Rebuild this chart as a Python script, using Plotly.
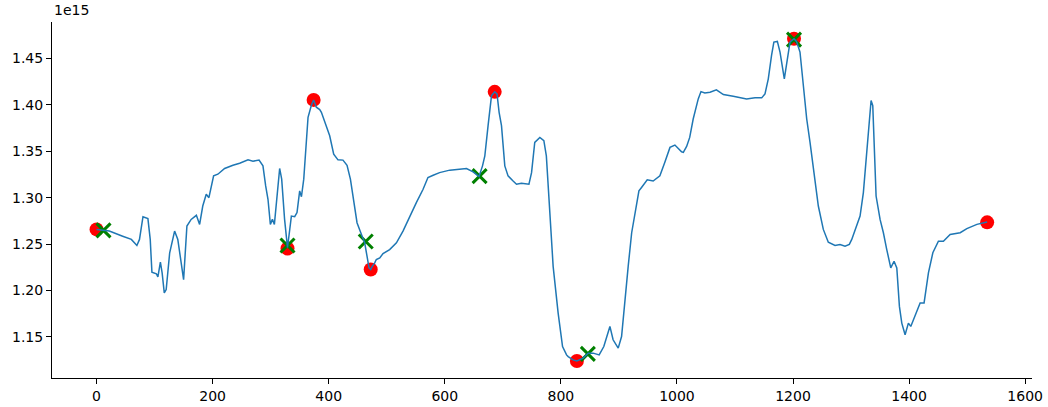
import plotly.graph_objects as go

SCALE_LABEL = "1e15"

# signal (values in units of 1e15)
x_signal = [0, 12, 22, 45, 60, 69.5, 74, 80, 88.5, 92.5, 95.4, 103, 105.7, 110, 113, 116.7, 120, 126, 134.5, 140,
            150, 155.7, 163, 172, 177.6, 183, 189, 193.6, 201.7, 209, 220.7, 235, 246.6, 261, 269.5, 280, 286.7,
            291.4, 295.4, 299.5, 303, 306.4, 311, 315.5, 319, 324, 329, 331.6, 335.7, 341.4, 345.4, 350, 353, 357,
            360.3, 364.4, 370, 374, 378.7, 384.5, 387.4, 393, 401.7, 408.6, 416, 424.6, 431.6, 437.4, 443, 448.8,
            456.4, 462, 466, 469.5, 472.4, 475, 479.3, 482, 488, 493.6, 505, 516.7, 528, 539.6, 551, 562.6, 571,
            580, 591, 608.6, 626, 637.4, 648.8, 659, 665, 669, 674.6, 680.5, 686, 690, 693.6, 697.7, 703.4, 709,
            717.7, 723.6, 732, 745, 749.5, 755, 763.8, 770.7, 775, 781, 786.7, 795.3, 802.9, 809.8, 812.6, 821,
            827.6, 838.4, 847, 855.7, 866, 874, 884.5, 890, 898.8, 904.6, 910, 916, 922, 927.6, 934.5, 939, 948.8,
            959, 970.6, 979, 988, 996.5, 1008, 1011, 1016.7, 1022, 1028, 1036.7, 1041.4, 1048, 1057, 1068, 1080,
            1097, 1111.5, 1120, 1134.5, 1146, 1151.7, 1157.4, 1163, 1167, 1173, 1177.6, 1185, 1190, 1194.8, 1201.7,
            1206, 1212, 1217.7, 1223.6, 1229.3, 1235, 1243.6, 1252.2, 1260.8, 1272.4, 1281, 1289.6, 1297, 1301.2,
            1309.8, 1315.5, 1321.2, 1327, 1331.5, 1334.5, 1337.4, 1340.2, 1343.1, 1350, 1355.7, 1361.5, 1368.4,
            1374.1, 1378.8, 1383.3, 1387.4, 1393.1, 1398.8, 1402.9, 1410.3, 1419, 1425.8, 1433.3, 1440.9, 1450.5,
            1459.1, 1470.7, 1488, 1499.5, 1516.8, 1534.5]
y_signal = [1.2658, 1.2650, 1.2640, 1.2585, 1.2550, 1.2485, 1.2550, 1.2795, 1.2774, 1.2550, 1.2196, 1.2180, 1.2146,
            1.2304, 1.2190, 1.1973, 1.2009, 1.2406, 1.2640, 1.2550, 1.2117, 1.2694, 1.2766, 1.2810, 1.2712, 1.2910,
            1.3037, 1.3000, 1.3235, 1.3253, 1.3315, 1.3350, 1.3372, 1.3408, 1.3394, 1.3405, 1.3343, 1.3127, 1.2983,
            1.2712, 1.2766, 1.2712, 1.3018, 1.3315, 1.3200, 1.2766, 1.2460, 1.2585, 1.2802, 1.2795, 1.2839, 1.3073,
            1.3010, 1.3200, 1.3560, 1.3867, 1.3993, 1.4054, 1.3975, 1.3950, 1.3920, 1.3813, 1.3668, 1.3470, 1.3408,
            1.3405, 1.3350, 1.3200, 1.2983, 1.2730, 1.2604, 1.2514, 1.2370, 1.2243, 1.2225, 1.2260, 1.2297, 1.2333,
            1.2350, 1.2398, 1.2441, 1.2514, 1.2640, 1.2802, 1.2947, 1.3091, 1.3217, 1.3242, 1.3270, 1.3297, 1.3307,
            1.3315, 1.3278, 1.3228, 1.3343, 1.3451, 1.3776, 1.4100, 1.4141, 1.4119, 1.3920, 1.3776, 1.3343, 1.3235,
            1.3180, 1.3145, 1.3156, 1.3145, 1.3270, 1.3596, 1.3650, 1.3614, 1.3451, 1.2875, 1.2260, 1.1756, 1.1395,
            1.1305, 1.1287, 1.1251, 1.1240, 1.1270, 1.1324, 1.1324, 1.1305, 1.1395, 1.1612, 1.1468, 1.1378, 1.1503,
            1.1900, 1.2260, 1.2622, 1.2839, 1.3073, 1.3110, 1.3192, 1.3180, 1.3235, 1.3380, 1.3542, 1.3567, 1.3495,
            1.3488, 1.3553, 1.3650, 1.3848, 1.4065, 1.4144, 1.4130, 1.4137, 1.4162, 1.4112, 1.4094, 1.4076, 1.4065,
            1.4076, 1.4076, 1.4119, 1.4281, 1.4534, 1.4678, 1.4685, 1.4570, 1.4281, 1.4462, 1.4678, 1.4714, 1.4685,
            1.4570, 1.4209, 1.3848, 1.3596, 1.3307, 1.2910, 1.2658, 1.2520, 1.2485, 1.2496, 1.2477, 1.2496, 1.2550,
            1.2694, 1.2802, 1.3055, 1.3488, 1.3884, 1.4047, 1.3992, 1.3488, 1.3018, 1.2766, 1.2622, 1.2441, 1.2243,
            1.2315, 1.2243, 1.1828, 1.1648, 1.1522, 1.1648, 1.1612, 1.1738, 1.1865, 1.1865, 1.2189, 1.2406, 1.2531,
            1.2531, 1.2604, 1.2622, 1.2666, 1.2712, 1.2737]

# extrema (red circles)
x_extrema = [0, 329, 374, 472.4, 686, 827.6, 1201.7, 1534.5]
y_extrema = [1.2658, 1.2452, 1.4054, 1.2225, 1.4141, 1.1240, 1.4714, 1.2734]

# detected points (green crosses)
x_detect = [12, 329, 463.8, 660, 846.5, 1201.7]
y_detect = [1.2647, 1.2485, 1.2528, 1.3232, 1.1316, 1.4704]

x_ticks = [0, 200, 400, 600, 800, 1000, 1200, 1400, 1600]
y_ticks = [1.15, 1.20, 1.25, 1.30, 1.35, 1.40, 1.45]

fig = go.Figure()
fig.add_trace(go.Scatter(x=x_extrema, y=y_extrema, mode="markers",
                         marker=dict(color="red", size=14, line=dict(width=0)), showlegend=False))
fig.add_trace(go.Scatter(x=x_detect, y=y_detect, mode="markers",
                         marker=dict(symbol="x-thin", size=14, line=dict(color="green", width=3)),
                         showlegend=False))
fig.add_trace(go.Scatter(x=x_signal, y=y_signal, mode="lines",
                         line=dict(color="#1f77b4", width=1.5), showlegend=False))

axis_common = dict(showgrid=False, zeroline=False, showline=True, linecolor="black", linewidth=1,
                   ticks="outside", ticklen=5, tickwidth=1, tickcolor="black", automargin=False,
                   tickfont=dict(family="DejaVu Sans", size=14, color="black"))

fig.update_layout(
    width=1048, height=407,
    margin=dict(l=52, r=16, t=22, b=29),
    plot_bgcolor="white", paper_bgcolor="white",
    xaxis=dict(range=[-76.75, 1611.75], tickvals=x_ticks, **axis_common),
    yaxis=dict(range=[1.1056, 1.4894], tickvals=y_ticks, tickformat=".2f", **axis_common),
    annotations=[dict(text=SCALE_LABEL, xref="paper", yref="paper", x=0, y=1, xanchor="left",
                      yanchor="bottom", showarrow=False, yshift=2,
                      font=dict(family="DejaVu Sans", size=14, color="black"))],
)

fig.write_html("out.html")
